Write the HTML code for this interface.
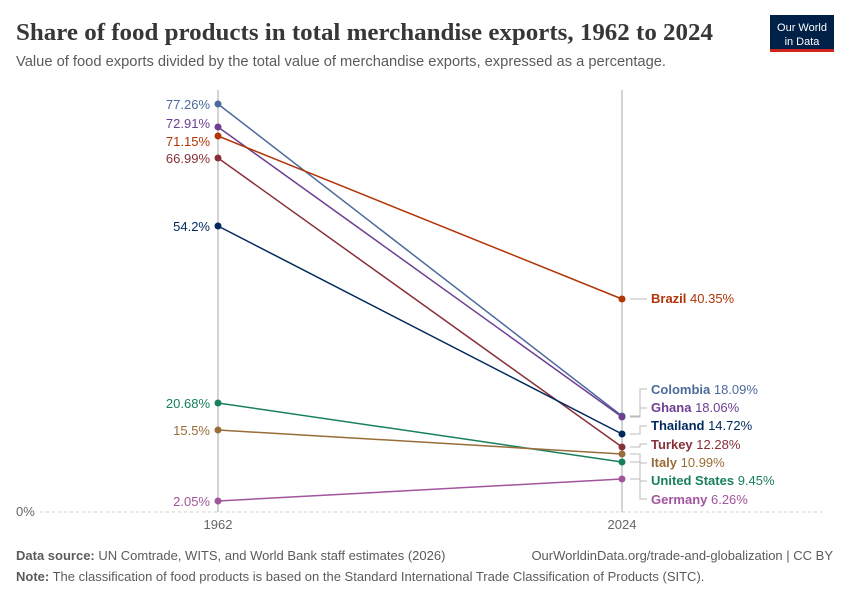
<!DOCTYPE html><html><head><style>body{margin:0;background:#fff;font-family:"Liberation Sans",sans-serif}</style></head><body>
<svg width="850" height="600" xmlns="http://www.w3.org/2000/svg" font-family="Liberation Sans, sans-serif">
<rect width="850" height="600" fill="#fff"/>
<text x="16" y="40" font-family="Liberation Serif, serif" font-size="24" font-weight="bold" fill="#373737" textLength="697" lengthAdjust="spacingAndGlyphs">Share of food products in total merchandise exports, 1962 to 2024</text>
<text x="16" y="66" font-size="14.5" fill="#5b5b5b" textLength="650" lengthAdjust="spacingAndGlyphs">Value of food exports divided by the total value of merchandise exports, expressed as a percentage.</text>
<rect x="770" y="15" width="64" height="36" fill="#002147"/><rect x="770" y="49" width="64" height="3" fill="#ce261e"/>
<text x="802" y="31" font-size="11" fill="#fff" text-anchor="middle">Our World</text><text x="802" y="45" font-size="11" fill="#fff" text-anchor="middle">in Data</text>
<line x1="40" y1="512" x2="822" y2="512" stroke="#ccc" stroke-dasharray="3,3"/>
<text x="16" y="516" font-size="13" fill="#666">0%</text>
<line x1="218" y1="90" x2="218" y2="512" stroke="#aaa"/><line x1="622" y1="90" x2="622" y2="512" stroke="#aaa"/>
<text x="218" y="529" font-size="13" fill="#666" text-anchor="middle">1962</text><text x="622" y="529" font-size="13" fill="#666" text-anchor="middle">2024</text>
<g stroke-width="1.5" fill="none">
<line x1="218" y1="104" x2="622" y2="416" stroke="#4c6a9c"/>
<line x1="218" y1="127" x2="622" y2="417" stroke="#6d3e91"/>
<line x1="218" y1="136" x2="622" y2="299" stroke="#b13507"/>
<line x1="218" y1="158" x2="622" y2="447" stroke="#883039"/>
<line x1="218" y1="226" x2="622" y2="434" stroke="#00295b"/>
<line x1="218" y1="403" x2="622" y2="462" stroke="#18805b"/>
<line x1="218" y1="430" x2="622" y2="454" stroke="#996d39"/>
<line x1="218" y1="501" x2="622" y2="479" stroke="#a2559c"/>
</g>
<g>
<circle cx="218" cy="104" r="3.5" fill="#4c6a9c"/><circle cx="622" cy="416" r="3.5" fill="#4c6a9c"/>
<circle cx="218" cy="127" r="3.5" fill="#6d3e91"/><circle cx="622" cy="417" r="3.5" fill="#6d3e91"/>
<circle cx="218" cy="136" r="3.5" fill="#b13507"/><circle cx="622" cy="299" r="3.5" fill="#b13507"/>
<circle cx="218" cy="158" r="3.5" fill="#883039"/><circle cx="622" cy="447" r="3.5" fill="#883039"/>
<circle cx="218" cy="226" r="3.5" fill="#00295b"/><circle cx="622" cy="434" r="3.5" fill="#00295b"/>
<circle cx="218" cy="403" r="3.5" fill="#18805b"/><circle cx="622" cy="462" r="3.5" fill="#18805b"/>
<circle cx="218" cy="430" r="3.5" fill="#996d39"/><circle cx="622" cy="454" r="3.5" fill="#996d39"/>
<circle cx="218" cy="501" r="3.5" fill="#a2559c"/><circle cx="622" cy="479" r="3.5" fill="#a2559c"/>
</g>
<g font-size="13" text-anchor="end">
<text x="210" y="109" fill="#4c6a9c">77.26%</text>
<text x="210" y="128" fill="#6d3e91">72.91%</text>
<text x="210" y="146" fill="#b13507">71.15%</text>
<text x="210" y="163" fill="#883039">66.99%</text>
<text x="210" y="231" fill="#00295b">54.2%</text>
<text x="210" y="408" fill="#18805b">20.68%</text>
<text x="210" y="435" fill="#996d39">15.5%</text>
<text x="210" y="506" fill="#a2559c">2.05%</text>
</g>
<g stroke="#bbb" fill="none">
<path d="M630 416H640V389H647"/><path d="M630 417H640V408H647"/><path d="M630 434H640V426H647"/>
<path d="M630 447H640V444H647"/><path d="M630 454H640V463H647"/><path d="M630 462H640V481H647"/><path d="M630 479H640V499H647"/>
<path d="M630 299H647"/>
</g>
<g font-size="13">
<text x="651" y="303" fill="#b13507"><tspan font-weight="bold">Brazil</tspan> 40.35%</text>
<text x="651" y="394" fill="#4c6a9c"><tspan font-weight="bold">Colombia</tspan> 18.09%</text>
<text x="651" y="412" fill="#6d3e91"><tspan font-weight="bold">Ghana</tspan> 18.06%</text>
<text x="651" y="430" fill="#00295b"><tspan font-weight="bold">Thailand</tspan> 14.72%</text>
<text x="651" y="449" fill="#883039"><tspan font-weight="bold">Turkey</tspan> 12.28%</text>
<text x="651" y="467" fill="#996d39"><tspan font-weight="bold">Italy</tspan> 10.99%</text>
<text x="651" y="485" fill="#18805b"><tspan font-weight="bold">United States</tspan> 9.45%</text>
<text x="651" y="504" fill="#a2559c"><tspan font-weight="bold">Germany</tspan> 6.26%</text>
</g>
<text x="16" y="560" font-size="13" fill="#5b5b5b"><tspan font-weight="bold">Data source:</tspan> UN Comtrade, WITS, and World Bank staff estimates (2026)</text>
<text x="833" y="560" font-size="13" fill="#5b5b5b" text-anchor="end">OurWorldinData.org/trade-and-globalization | CC BY</text>
<text x="16" y="581" font-size="13" fill="#5b5b5b"><tspan font-weight="bold">Note:</tspan> The classification of food products is based on the Standard International Trade Classification of Products (SITC).</text>
</svg></body></html>
